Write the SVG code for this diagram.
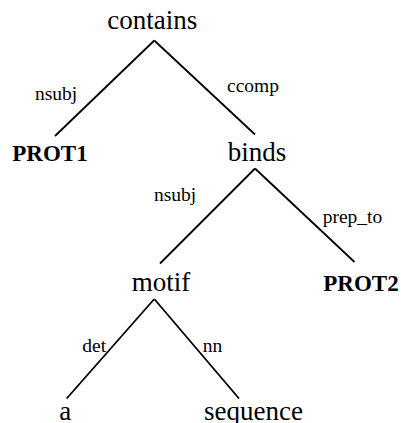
<svg xmlns="http://www.w3.org/2000/svg" width="401" height="423" viewBox="0 0 401 423">
<style>
text{font-family:'Liberation Serif','Times New Roman',Times,'DejaVu Serif',serif;fill:#000}
.w{font-size:27px}
.b{font-size:23px;font-weight:bold}
.l{font-size:19.5px}
.e{stroke:#000;stroke-width:1.8;fill:none}
</style>
<rect width="401" height="423" fill="#fff"/>
<g id="connectors">
<line class="e" x1="154.3" y1="40.5" x2="55" y2="136"/>
<line class="e" x1="154.3" y1="40.5" x2="255" y2="134.5"/>
<line class="e" x1="255" y1="168.5" x2="160" y2="263.5"/>
<line class="e" x1="255" y1="168.5" x2="354.5" y2="262"/>
<line class="e" x1="154.3" y1="299" x2="66.7" y2="398.5"/>
<line class="e" x1="154.3" y1="299" x2="239" y2="398.5"/>
<text class="l" x="35" y="99.5">nsubj</text>
<text class="l" x="227" y="91.5">ccomp</text>
<text class="l" x="154" y="201">nsubj</text>
<text class="l" x="322.7" y="222.5">prep_to</text>
<text class="l" x="82.3" y="351.7">det</text>
<text class="l" x="202.7" y="351.7">nn</text>
</g>
<g id="n-contains"><text class="w" x="107.3" y="29.3">contains</text></g>
<g id="n-prot1"><text class="b" x="12.3" y="161">PROT1</text></g>
<g id="n-binds"><text class="w" x="227.7" y="161">binds</text></g>
<g id="n-motif"><text class="w" x="131.7" y="291">motif</text></g>
<g id="n-prot2"><text class="b" x="323.3" y="291">PROT2</text></g>
<g id="n-a"><text class="w" x="59.3" y="420">a</text></g>
<g id="n-sequence"><text class="w" x="204" y="420">sequence</text></g>
</svg>
